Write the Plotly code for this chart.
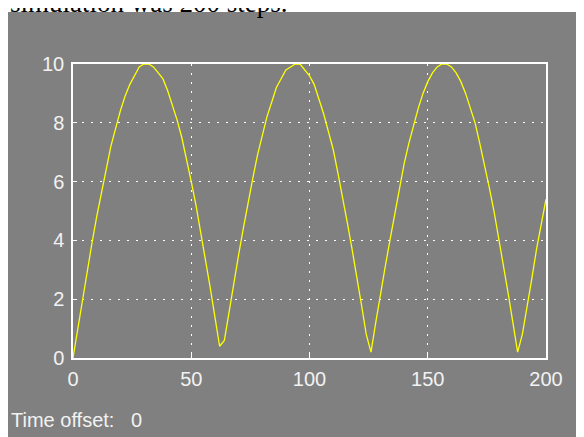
import plotly.graph_objects as go

time_steps = list(range(0, 201, 2))
signal = [
    0.0, 1.0, 2.0, 3.0, 3.9, 4.8, 5.6, 6.4, 7.2, 7.8,
    8.4, 8.9, 9.3, 9.6, 9.9, 10.0, 10.0, 9.9, 9.7, 9.5,
    9.1, 8.6, 8.1, 7.5, 6.8, 6.0, 5.2, 4.3, 3.4, 2.4,
    1.4, 0.4, 0.6, 1.6, 2.6, 3.5, 4.4, 5.3, 6.1, 6.9,
    7.6, 8.2, 8.7, 9.2, 9.5, 9.8, 9.9, 10.0, 10.0, 9.8,
    9.6, 9.3, 8.8, 8.3, 7.7, 7.1, 6.3, 5.5, 4.6, 3.7,
    2.8, 1.8, 0.8, 0.2, 1.2, 2.2, 3.1, 4.0, 4.9, 5.8,
    6.6, 7.3, 7.9, 8.5, 9.0, 9.4, 9.7, 9.9, 10.0, 10.0,
    9.9, 9.7, 9.4, 9.0, 8.5, 8.0, 7.3, 6.6, 5.8, 5.0,
    4.1, 3.2, 2.2, 1.2, 0.2, 0.8, 1.7, 2.7, 3.7, 4.6,
    5.4,
]
x_ticks = [0, 50, 100, 150, 200]
y_ticks = [0, 2, 4, 6, 8, 10]

OFF = 8  # the page places the figure 8px in from the window corner
W, H = 584 - OFF, 437 - OFF
# plot area in window pixels
L0, R0, T0, B0 = 73, 546, 64, 358
L, R, T, B = L0 - OFF, R0 - OFF, T0 - OFF, B0 - OFF


def px(x):
    # window pixel -> paper coordinate
    return (x - OFF - L) / (R - L)


def py(y):
    return (B - (y - OFF)) / (B - T)


fig = go.Figure(go.Scatter(
    x=time_steps, y=signal, mode="lines",
    line=dict(color="#ffff00", width=1.3),
    hoverinfo="skip", showlegend=False,
))

tickfont = dict(family="Liberation Sans, Arial, sans-serif", size=20, color="#f2f2f2")
axis_common = dict(
    showline=True, linecolor="#ffffff", linewidth=1.5, mirror=True,
    ticks="inside", ticklen=4, tickcolor="#ffffff", tickwidth=1,
    showgrid=True, gridcolor="#ffffff", gridwidth=1, griddash="2px,7px",
    zeroline=False, tickfont=tickfont, fixedrange=True,
)

fig.update_xaxes(range=[0, 200], tickvals=x_ticks, ticklabelstandoff=2, **axis_common)
fig.update_yaxes(range=[0, 10], tickvals=y_ticks, ticklabelstandoff=3, **axis_common)

fig.update_layout(
    width=W, height=H,
    margin=dict(l=L, r=W - R, t=T, b=H - B, pad=0),
    paper_bgcolor="#ffffff",
    plot_bgcolor="#000000",
    shapes=[dict(
        type="rect", xref="paper", yref="paper", layer="below",
        x0=px(8), x1=px(600), y0=py(460), y1=py(12),
        fillcolor="#808080", line=dict(width=0),
    )],
    annotations=[
        dict(text="simulation was 200 steps.", xref="paper", yref="paper",
             x=px(8), y=py(3), xanchor="left", yanchor="middle", showarrow=False,
             font=dict(family="Liberation Serif, Times New Roman, serif", size=27, color="#000000")),
        dict(text="Time offset:&nbsp;&nbsp;&nbsp;0", xref="paper", yref="paper",
             x=px(9), y=py(420), xanchor="left", yanchor="middle", showarrow=False,
             font=dict(family="Liberation Sans, Arial, sans-serif", size=20, color="#f2f2f2")),
    ],
)

fig.write_html("out.html")
